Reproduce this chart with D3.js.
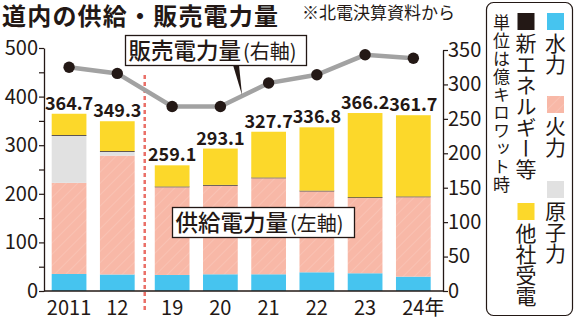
<!DOCTYPE html>
<html><head><meta charset="utf-8">
<script src="https://cdn.jsdelivr.net/npm/d3@7"></script>
<style>
html,body{margin:0;padding:0;background:#fff;}
svg{display:block;font-family:"Noto Sans CJK JP","Noto Sans",sans-serif;}
</style></head>
<body><svg id="c" width="574" height="323"></svg>
<script>
// ---- data ----
const categories = ["2011","12","19","20","21","22","23","24"];
const hydro   = [35, 34, 33, 34.4, 34.4, 38.5, 36.5, 29.5];      // 水力
const thermal = [187.5, 244.5, 180.5, 182.4, 197.6, 166.5, 155, 163.5]; // 火力
const nuclear = [97, 8, 0, 0, 0, 0, 0, 0];                      // 原子力
const newEnergy = [1.5, 1.5, 1.5, 1.5, 1.5, 1.5, 1.5, 1.5];     // 新エネルギー等
const purchased = [43.7, 61.3, 43.6, 74.8, 94.2, 130.3, 173.2, 167.2]; // 他社受電
const supplyTotals = ["364.7","349.3","259.1","293.1","327.7","336.8","366.2","361.7"];
const sales = [325, 316, 268, 268, 302, 314, 343, 338];          // 販売電力量(右軸)
const leftTicks = [0,50,100,150,200,250,300,350,400,450,500];
const rightTicks = [0,50,100,150,200,250,300,350];
const seriesNames = ["水力","火力","原子力","新エネルギー等","他社受電"];

const ink = "#231815";
const colors = {"水力":"#46c4ef","火力":"#f8b8a7","原子力":"#e1e1e1","新エネルギー等":"#231815","他社受電":"#fcd82a"};

const svg = d3.select("#c");
const defs = svg.append("defs");
const pat = defs.append("pattern").attr("id","hatch").attr("patternUnits","userSpaceOnUse")
  .attr("width",8).attr("height",8).attr("patternTransform","rotate(45)");
pat.append("rect").attr("width",8).attr("height",8).attr("fill",colors["火力"]);
pat.append("line").attr("x1",0).attr("y1",0).attr("x2",0).attr("y2",8)
  .attr("stroke","#fbcdbf").attr("stroke-width",1);
const fillOf = k => k==="火力" ? "url(#hatch)" : colors[k];

// ---- scales ----
const gapAfter = 1, gapPx = 6.6;
const xb = d3.scaleBand().domain(categories).range([51.7, 51.7+372.4]).paddingInner(0.28).paddingOuter(0);
const xL = c => xb(c) + (categories.indexOf(c) > gapAfter ? gapPx : 0);
const xC = c => xL(c) + xb.bandwidth()/2;
const yL = d3.scaleLinear().domain([0,500]).range([291,48]);
const yR = d3.scaleLinear().domain([0,350]).range([291,50]);

// ---- stacked bars ----
const rows = categories.map((c,i)=>({cat:c,"水力":hydro[i],"火力":thermal[i],"原子力":nuclear[i],"新エネルギー等":newEnergy[i],"他社受電":purchased[i]}));
const stack = d3.stack().keys(seriesNames)(rows);
svg.append("g").selectAll("g").data(stack).join("g")
  .attr("fill", d=>fillOf(d.key))
  .selectAll("rect").data(d=>d).join("rect")
  .attr("x", d=>xL(d.data.cat)).attr("width", xb.bandwidth())
  .attr("y", d=>yL(d[1])).attr("height", d=>Math.max(0, yL(d[0])-yL(d[1])));

// total labels
svg.append("g").selectAll("text").data(categories).join("text")
  .attr("x", c=>xC(c)).attr("y", (c,i)=>yL(+supplyTotals[i])-4)
  .attr("text-anchor","middle").attr("font-size",18).attr("font-weight",700)
  .attr("fill",ink).text((c,i)=>supplyTotals[i]);

// dashed separator
const sepX = (xL(categories[gapAfter]) + xb.bandwidth() + xL(categories[gapAfter+1]))/2;
svg.append("line").attr("x1",sepX).attr("x2",sepX).attr("y1",75).attr("y2",310)
  .attr("stroke","#ea6f67").attr("stroke-width",2.5).attr("stroke-dasharray","4,3");

// ---- axes ----
const axL = svg.append("g").attr("transform","translate(44,0)")
  .call(d3.axisLeft(yL).tickValues(leftTicks).tickFormat(d=>d%100===0?d:"").tickSize(5).tickSizeOuter(0));
const axR = svg.append("g").attr("transform","translate(443,0)")
  .call(d3.axisRight(yR).tickValues(rightTicks).tickSize(5).tickSizeOuter(0));
[axL,axR].forEach(a=>{
  a.select(".domain").attr("stroke",ink).attr("stroke-width",1.3);
  a.selectAll(".tick line").attr("stroke",ink).attr("stroke-width",1.2);
  a.selectAll(".tick text").attr("fill",ink).attr("font-size",20).attr("font-family","'Noto Sans CJK JP',sans-serif");
});
axL.selectAll(".tick text").attr("x",-6);
axR.selectAll(".tick text").attr("x",5);
// x axis baseline
svg.append("line").attr("x1",44).attr("x2",443).attr("y1",yL(0)).attr("y2",yL(0)).attr("stroke",ink).attr("stroke-width",1.3);
svg.append("g").selectAll("text").data(categories).join("text")
  .attr("x", c=>xC(c)).attr("y",315).attr("text-anchor","middle")
  .attr("font-size",20).attr("fill",ink)
  .text(c=>c)
  .filter((c,i)=>i===categories.length-1).append("tspan").text("年");
// shift last label so the number is centred on the bar
svg.selectAll("g text").filter(function(){return this.textContent==="24年";})
  .attr("text-anchor","start").attr("x", function(){return xC("24") - this.getSubStringLength(0,2)/2;});

// ---- sales line ----
svg.append("path").datum(sales)
  .attr("d", d3.line().x((d,i)=>xC(categories[i])).y(d=>yR(d)))
  .attr("fill","none").attr("stroke","#a2a2a2").attr("stroke-width",4.5);
svg.append("g").selectAll("circle").data(sales).join("circle")
  .attr("cx",(d,i)=>xC(categories[i])).attr("cy",d=>yR(d)).attr("r",5.7).attr("fill",ink);

// ---- annotation boxes ----
function box(x,y,w,h,main,sub){
  const g = svg.append("g");
  g.append("rect").attr("x",x).attr("y",y).attr("width",w).attr("height",h)
    .attr("fill","#fff").attr("stroke",ink).attr("stroke-width",1.3);
  const t = g.append("text").attr("x",x+3).attr("y",y+h-7).attr("fill",ink).attr("font-size",22.5).attr("font-weight",500);
  t.append("tspan").text(main);
  t.append("tspan").attr("dx",2).attr("font-size",20).attr("font-weight",400).text(sub);
  return g;
}
// pointer wedge for sales label
svg.append("path").attr("d","M233,65 L239,65 L242,95 Z").attr("fill",ink);
box(125.5,35.5,181,30,"販売電力量","(右軸)");
box(172.5,207.5,182,30,"供給電力量","(左軸)");

// ---- title ----
svg.append("text").attr("x",2).attr("y",25).attr("font-size",24).attr("font-weight",700)
  .attr("fill",ink).attr("letter-spacing",1.2).text("道内の供給・販売電力量");
svg.append("text").attr("x",302).attr("y",18.5).attr("font-size",17)
  .attr("fill",ink).text("※北電決算資料から");

// ---- legend ----
svg.append("rect").attr("x",486.5).attr("y",2.5).attr("width",86).attr("height",313).attr("rx",7)
  .attr("fill","#fff").attr("stroke",ink).attr("stroke-width",1.2);
const vtext = (x,y,s,size,ls) => svg.append("text").attr("x",x).attr("y",y)
  .style("writing-mode","vertical-rl").attr("font-size",size).attr("letter-spacing",ls||0)
  .attr("fill",ink).text(s);
vtext(501.5,14,"単位は億キロワット時",17,1);
const legendItems = [
  {k:"新エネルギー等", x:526, y:13},
  {k:"他社受電", x:526, y:203},
  {k:"水力", x:555.5, y:13},
  {k:"火力", x:555.5, y:96},
  {k:"原子力", x:555.5, y:181}
];
legendItems.forEach(it=>{
  svg.append("rect").attr("x",it.x-8.5).attr("y",it.y).attr("width",17).attr("height",17).attr("fill",fillOf(it.k));
  vtext(it.x, it.y+20, it.k, 21, 0);
});
</script></body></html>
